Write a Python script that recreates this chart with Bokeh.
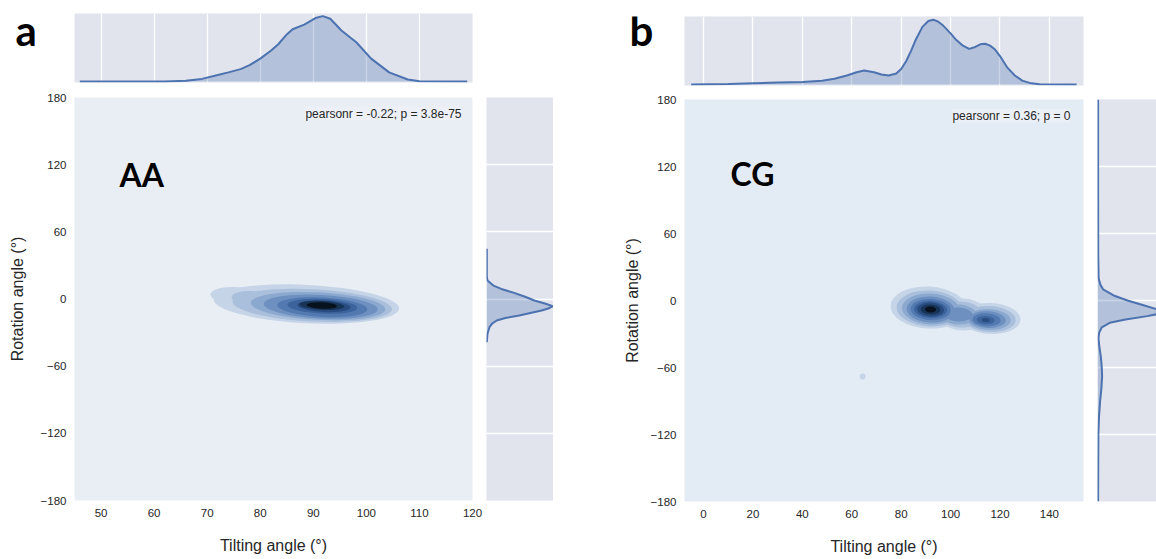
from bokeh.plotting import figure
from bokeh.layouts import row, column
from bokeh.models import Range1d, FixedTicker, Label
from bokeh.embed import file_html
from bokeh.resources import INLINE

# ---------------- data ----------------
# Panel a (AA): marginal densities (relative, peak = 1)
a_top_x = [46, 62, 66, 69, 72, 74, 76.3, 78, 80, 82, 83.4, 85, 86.1, 88.3, 90.4, 91.8,
           93.2, 95.3, 98.1, 100.9, 104.3, 107.8, 110, 119]
a_top_d = [0, 0, 0.01, 0.04, 0.10, 0.14, 0.19, 0.25, 0.35, 0.47, 0.57, 0.72, 0.80, 0.87,
           0.97, 1.0, 0.96, 0.78, 0.60, 0.35, 0.14, 0.03, 0.005, 0]
a_right_y = [45, 20, 16.5, 12, 9, 6.1, 2, -1.3, -4, -6.4, -8.5, -10.3, -12.5, -14.7, -17,
             -19.2, -22, -25.2, -31, -38.6]
a_right_d = [0, 0, 0.01, 0.10, 0.22, 0.38, 0.58, 0.72, 0.88, 1.0, 0.93, 0.83, 0.66, 0.49,
             0.28, 0.15, 0.08, 0.04, 0.01, 0]
# Panel a joint KDE: contour levels approximated by ellipses (level, centre, size)
a_lvl = [1, 1, 2, 2, 3, 4, 5, 6, 7, 8, 9]
a_cx = [88.7, 75.3, 89.8, 78.2, 90.9, 91.4, 91.7, 91.7, 92.0, 91.6, 91.6]
a_cy = [-4.5, 3.1, -5.7, 0.9, -6.3, -6.9, -7.3, -6.5, -6.5, -5.8, -5.8]
a_w = [35.0, 9.4, 30.1, 7.2, 25.4, 21.5, 17.0, 13.2, 10.0, 8.5, 5.7]
a_h = [34.3, 15.2, 28.8, 12.5, 24.6, 21.1, 17.4, 13.0, 10.2, 8.0, 5.8]

# Panel b (CG)
b_top_x = [-5, 10, 20, 30, 40, 48, 53, 58, 62, 65, 69, 72, 75, 78, 80, 82, 84, 86, 88.6,
           91, 93, 95, 97, 100, 102, 105, 107.5, 110, 112, 114, 116, 118, 120, 123, 126,
           129, 132, 136, 151]
b_top_d = [0, 0.01, 0.02, 0.03, 0.04, 0.06, 0.09, 0.14, 0.19, 0.215, 0.19, 0.155, 0.14,
           0.17, 0.24, 0.36, 0.52, 0.70, 0.89, 0.98, 1.0, 0.97, 0.91, 0.79, 0.70, 0.60,
           0.55, 0.58, 0.62, 0.63, 0.60, 0.54, 0.44, 0.26, 0.14, 0.06, 0.025, 0.005, 0]
b_right_y = [180, 100, 40, 20, 14, 10, 4.5, 0, -4, -8, -11, -14, -17, -20, -24, -29, -34,
             -40, -50, -60, -68, -78, -90, -104, -120, -180]
b_right_d = [0.004, 0.004, 0.006, 0.012, 0.04, 0.08, 0.24, 0.45, 0.68, 0.90, 1.0, 0.75,
             0.42, 0.18, 0.06, 0.02, 0.01, 0.02, 0.045, 0.06, 0.065, 0.055, 0.035, 0.018,
             0.008, 0.004]
b_lvl = [1, 1, 1, 1, 2, 2, 2, 3, 3, 3, 4, 4, 4, 5, 5, 6, 6, 7, 7, 8, 9]
b_cx = [91.1, 104.9, 116.2, 64.4, 91.5, 104.0, 115.8, 91.9, 103.2, 115.4, 91.9, 103.2,
        115.0, 91.9, 114.6, 91.9, 114.2, 91.9, 114.2, 91.9, 91.9]
b_cy = [-6.3, -12.5, -16.1, -68.0, -7.2, -12.5, -16.6, -7.6, -12.5, -17.0, -8.1, -12.5,
        -17.0, -8.1, -17.2, -8.1, -17.5, -8.1, -17.5, -8.1, -8.1]
b_w = [30.8, 20.2, 24.3, 2.4, 26.7, 17.8, 21.1, 23.1, 14.6, 17.8, 19.4, 11.3, 14.6, 16.2,
       11.3, 13.4, 7.3, 10.9, 3.2, 8.1, 4.5]
b_h = [37.6, 28.7, 27.8, 5.4, 32.2, 23.3, 23.3, 27.8, 17.9, 18.8, 23.3, 12.5, 15.2, 18.8,
       11.6, 15.2, 7.2, 12.5, 3.6, 9.0, 5.4]

a_xticks = [50, 60, 70, 80, 90, 100, 110, 120]
b_xticks = [0, 20, 40, 60, 80, 100, 120, 140]
yticks = [-180, -120, -60, 0, 60, 120, 180]

# ---------------- styles ----------------
LEVEL_COLORS = ["#c6d4e7", "#a9bfdc", "#8ba8cf", "#6d90c0", "#5279b0",
                "#3c639c", "#294c80", "#173356", "#08121f"]
MARG_BG = "#e1e4ed"
LINE = "#4C72B0"
TXT = "#262626"
FONT = "Liberation Sans"


def fig(dims, xr, yr, axes=False):
    w, h, l, r, t, b = dims
    kw = dict(width=w, height=h, x_range=xr, y_range=yr, output_backend="svg",
              toolbar_location=None, min_border_left=l, min_border_right=r,
              min_border_top=t, min_border_bottom=b)
    if not axes:
        kw.update(x_axis_location=None, y_axis_location=None)
    p = figure(**kw)
    p.outline_line_color = None
    return p


def panel(xr, letter_dims, top_dims, main_dims, right_dims, right_xr, top_yr, main_bg,
          xticks, top_grid, tx, td, ry, rd, lvl, cx, cy, w, h, angle,
          letter, letter_xy, name, name_xy, pr, pr_xy, ylab_standoff):
    yr = Range1d(-180, 180)
    # panel letter
    lf = fig(letter_dims, Range1d(0, 1), Range1d(0, 1))
    lf.background_fill_color = "white"
    lf.grid.visible = False
    lf.add_layout(Label(x=letter_xy[0], y=letter_xy[1], x_units="screen", y_units="screen",
                        text=letter, text_font="Lato", text_font_style="bold",
                        text_font_size="42px", text_color="black",
                        text_baseline="alphabetic"))
    # top marginal
    t = fig(top_dims, xr, top_yr)
    t.background_fill_color = MARG_BG
    t.xgrid.ticker = FixedTicker(ticks=top_grid)
    t.xgrid.grid_line_color = "white"
    t.xgrid.grid_line_width = 1.3
    t.ygrid.visible = False
    t.varea(x=tx, y1=0, y2=td, fill_color=LINE, fill_alpha=0.3)
    t.line(tx, td, line_color=LINE, line_width=2)
    # main joint plot
    m = fig(main_dims, xr, yr, axes=True)
    m.background_fill_color = main_bg
    m.grid.visible = False
    m.xaxis.ticker = FixedTicker(ticks=xticks)
    m.yaxis.ticker = FixedTicker(ticks=yticks)
    m.yaxis.major_label_overrides = {v: ("\u2212" + str(-v)) for v in yticks if v < 0}
    m.xaxis.axis_label = "Tilting angle (°)"
    m.yaxis.axis_label = "Rotation angle (°)"
    m.axis.axis_line_color = None
    m.axis.major_tick_line_color = None
    m.axis.minor_tick_line_color = None
    m.axis.major_tick_out = 0
    m.axis.major_tick_in = 0
    m.axis.major_label_text_font = FONT
    m.axis.major_label_text_font_size = "11.5px"
    m.axis.major_label_text_color = TXT
    m.axis.major_label_standoff = 8
    m.axis.axis_label_text_font = FONT
    m.axis.axis_label_text_font_size = "16px"
    m.axis.axis_label_text_font_style = "normal"
    m.axis.axis_label_text_color = TXT
    m.xaxis.axis_label_standoff = 17
    m.yaxis.axis_label_standoff = ylab_standoff
    cols = [LEVEL_COLORS[k - 1] for k in lvl]
    m.ellipse(x=cx, y=cy, width=w, height=h, angle=angle, fill_color=cols,
              line_color=None)
    m.add_layout(Label(x=name_xy[0], y=name_xy[1], x_units="screen", y_units="screen",
                       text=name, text_font="Lato", text_font_style="bold",
                       text_font_size="32px", text_color="black",
                       text_baseline="alphabetic"))
    m.add_layout(Label(x=pr_xy[0], y=pr_xy[1], x_units="screen", y_units="screen",
                       text=pr, text_font=FONT, text_font_size="12px", text_color=TXT,
                       text_align="right", text_baseline="middle",
                       background_fill_color="#eef1f7", background_fill_alpha=0.7))
    # right marginal
    r = fig(right_dims, right_xr, yr)
    r.background_fill_color = MARG_BG
    r.ygrid.ticker = FixedTicker(ticks=[-120, -60, 0, 60, 120])
    r.ygrid.grid_line_color = "white"
    r.ygrid.grid_line_width = 1.3
    r.xgrid.visible = False
    r.harea(y=ry, x1=0, x2=rd, fill_color=LINE, fill_alpha=0.3)
    r.line(rd, ry, line_color=LINE, line_width=2)
    return column(row(lf, t, spacing=0), row(m, r, spacing=0), spacing=0)


pa = panel(Range1d(45, 120),
           (74, 89, 0, 0, 0, 0),
           (479, 89, 0, 81, 13, 7), (486, 470, 74, 14, 8, 59), (67, 470, 0, 0, 8, 59),
           Range1d(-0.005, 1.01), Range1d(-0.015, 1.04), "#e9eef5",
           a_xticks, [50, 60, 70, 80, 90, 100, 110],
           a_top_x, a_top_d, a_right_y, a_right_d,
           a_lvl, a_cx, a_cy, a_w, a_h, -0.05,
           "a", (15, 53), "AA", (45, 326),
           "pearsonr = -0.22; p = 3.8e-75", (387, 387), 12)

pb = panel(Range1d(-7.7, 153.8),
           (131, 92, 0, 0, 0, 0),
           (472, 92, 0, 73, 16, 7), (544, 467, 131, 14, 7, 58), (59, 467, 0, 0, 7, 58),
           Range1d(-0.005, 0.889), Range1d(-0.015, 1.05), "#e3ebf4",
           b_xticks, b_xticks,
           b_top_x, b_top_d, b_right_y, b_right_d,
           b_lvl, b_cx, b_cy, b_w, b_h, -0.05,
           "b", (76, 56), "CG", (46, 328),
           "pearsonr = 0.36; p = 0", (386, 386), 7)

p = row(pa, pb, spacing=0)
open("out.html", "w").write(file_html(p, INLINE))
